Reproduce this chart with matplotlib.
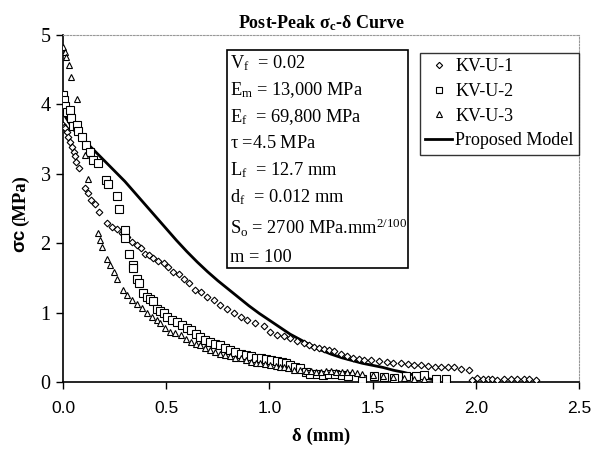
import matplotlib
matplotlib.use("Agg")
import matplotlib.pyplot as plt
from matplotlib.lines import Line2D
from matplotlib.patches import Rectangle

plt.rcParams['mathtext.fontset'] = 'custom'
plt.rcParams['mathtext.rm'] = 'Liberation Serif'
plt.rcParams['mathtext.it'] = 'Liberation Serif:italic'
plt.rcParams['mathtext.bf'] = 'Liberation Serif:bold'

# ---- data (delta in mm, sigma_c in MPa) ----
kv1_d = [0.000, 0.005, 0.010, 0.018, 0.026, 0.034, 0.042, 0.053, 0.058, 0.063, 0.078, 0.107,
         0.123, 0.136, 0.155, 0.176, 0.212, 0.236, 0.261, 0.285, 0.309, 0.333, 0.358, 0.378,
         0.398, 0.418, 0.438, 0.462, 0.487, 0.510, 0.535, 0.560, 0.584, 0.610, 0.641, 0.670,
         0.698, 0.730, 0.762, 0.795, 0.827, 0.860, 0.892, 0.930, 0.972, 1.005, 1.037, 1.070,
         1.102, 1.135, 1.166, 1.190, 1.215, 1.240, 1.264, 1.290, 1.312, 1.345, 1.377, 1.405,
         1.433, 1.460, 1.490, 1.530, 1.571, 1.600, 1.636, 1.670, 1.700, 1.735, 1.766, 1.800,
         1.830, 1.865, 1.895, 1.930, 1.967, 1.984, 2.008, 2.035, 2.057, 2.080, 2.105, 2.135,
         2.170, 2.200, 2.234, 2.260, 2.291]
kv1_s = [3.70, 3.68, 3.66, 3.60, 3.53, 3.46, 3.39, 3.32, 3.25, 3.17, 3.08, 2.79,
         2.72, 2.62, 2.57, 2.45, 2.29, 2.24, 2.21, 2.14, 2.09, 2.02, 1.97, 1.93,
         1.85, 1.83, 1.78, 1.74, 1.71, 1.66, 1.59, 1.55, 1.49, 1.42, 1.33, 1.29,
         1.23, 1.18, 1.11, 1.05, 0.99, 0.94, 0.89, 0.85, 0.80, 0.72, 0.68, 0.66,
         0.63, 0.59, 0.56, 0.54, 0.51, 0.49, 0.47, 0.46, 0.44, 0.40, 0.37, 0.35,
         0.33, 0.32, 0.31, 0.30, 0.29, 0.28, 0.27, 0.26, 0.25, 0.24, 0.23, 0.22,
         0.21, 0.22, 0.21, 0.19, 0.17, 0.03, 0.06, 0.05, 0.05, 0.04, 0.03, 0.04,
         0.05, 0.04, 0.05, 0.04, 0.03]

kv2_d = [0.000, 0.006, 0.010, 0.018, 0.034, 0.039, 0.047, 0.069, 0.074, 0.091, 0.112, 0.131,
         0.144, 0.171, 0.209, 0.220, 0.261, 0.273, 0.298, 0.301, 0.320, 0.338, 0.341, 0.358,
         0.370, 0.390, 0.406, 0.420, 0.438, 0.455, 0.470, 0.487, 0.503, 0.530, 0.552, 0.576,
         0.600, 0.620, 0.645, 0.665, 0.690, 0.711, 0.735, 0.760, 0.785, 0.810, 0.835, 0.860,
         0.885, 0.910, 0.935, 0.960, 0.985, 1.010, 1.035, 1.060, 1.080, 1.100, 1.125, 1.150,
         1.175, 1.199, 1.230, 1.262, 1.290, 1.320, 1.350, 1.380, 1.450, 1.505, 1.553, 1.602,
         1.660, 1.709, 1.749, 1.806, 1.854]
kv2_s = [4.14, 4.06, 3.98, 3.89, 3.92, 3.80, 3.69, 3.70, 3.61, 3.53, 3.41, 3.32,
         3.20, 3.15, 2.91, 2.86, 2.68, 2.49, 2.19, 2.07, 1.85, 1.69, 1.64, 1.49,
         1.42, 1.28, 1.23, 1.20, 1.16, 1.05, 1.02, 0.99, 0.94, 0.90, 0.87, 0.82,
         0.78, 0.75, 0.69, 0.65, 0.61, 0.58, 0.55, 0.53, 0.49, 0.46, 0.43, 0.41,
         0.39, 0.37, 0.35, 0.34, 0.33, 0.32, 0.30, 0.29, 0.27, 0.25, 0.22, 0.20,
         0.15, 0.12, 0.11, 0.10, 0.11, 0.11, 0.10, 0.08, 0.05, 0.08, 0.07, 0.06,
         0.08, 0.08, 0.10, 0.05, 0.05]

kv3_d = [0.000, 0.010, 0.015, 0.030, 0.040, 0.066, 0.107, 0.123, 0.171, 0.180, 0.191, 0.215,
         0.228, 0.249, 0.260, 0.292, 0.309, 0.333, 0.358, 0.382, 0.406, 0.430, 0.455, 0.470,
         0.495, 0.520, 0.545, 0.570, 0.595, 0.620, 0.645, 0.665, 0.690, 0.710, 0.735, 0.760,
         0.785, 0.810, 0.835, 0.860, 0.885, 0.910, 0.935, 0.956, 0.980, 1.005, 1.030, 1.050,
         1.070, 1.090, 1.120, 1.150, 1.175, 1.200, 1.225, 1.250, 1.275, 1.300, 1.325, 1.350,
         1.375, 1.400, 1.425, 1.450, 1.500, 1.550, 1.600, 1.650, 1.700, 1.750]
kv3_s = [4.83, 4.76, 4.69, 4.57, 4.39, 4.08, 3.27, 2.93, 2.15, 2.05, 1.95, 1.77,
         1.69, 1.59, 1.49, 1.33, 1.25, 1.18, 1.13, 1.06, 0.99, 0.94, 0.89, 0.85,
         0.78, 0.72, 0.70, 0.68, 0.62, 0.58, 0.55, 0.53, 0.49, 0.46, 0.43, 0.41,
         0.39, 0.37, 0.35, 0.34, 0.31, 0.29, 0.28, 0.27, 0.26, 0.245, 0.23, 0.22,
         0.21, 0.20, 0.18, 0.17, 0.16, 0.16, 0.15, 0.15, 0.16, 0.16, 0.15, 0.15,
         0.14, 0.14, 0.13, 0.12, 0.10, 0.08, 0.07, 0.06, 0.05, 0.04]

model_d = [0.00, 0.05, 0.10, 0.15, 0.20, 0.25, 0.30, 0.35, 0.40, 0.45, 0.50, 0.55,
           0.60, 0.65, 0.70, 0.75, 0.80, 0.85, 0.90, 0.95, 1.00, 1.05, 1.10, 1.15,
           1.20, 1.25, 1.30, 1.35, 1.40, 1.45, 1.50, 1.55, 1.60, 1.65, 1.70, 1.75, 1.80]
model_s = [3.88, 3.64, 3.49, 3.34, 3.19, 3.04, 2.89, 2.72, 2.55, 2.38, 2.21, 2.04,
           1.88, 1.73, 1.59, 1.46, 1.34, 1.22, 1.10, 0.99, 0.89, 0.79, 0.69, 0.61,
           0.53, 0.46, 0.40, 0.35, 0.31, 0.27, 0.24, 0.21, 0.17, 0.14, 0.10, 0.06, 0.03]

params = [r'V$_\mathrm{f}$  = 0.02',
          r'E$_\mathrm{m}$ = 13,000 MPa',
          r'E$_\mathrm{f}$  = 69,800 MPa',
          r'$\mathrm{\tau}$ =4.5 MPa',
          r'L$_\mathrm{f}$  = 12.7 mm',
          r'd$_\mathrm{f}$  = 0.012 mm',
          r'S$_\mathrm{o}$ = 2700 MPa.mm$^{\mathrm{2/100}}$',
          r'm = 100']

series_labels = ['KV-U-1', 'KV-U-2', 'KV-U-3', 'Proposed Model']
xticks = [0.0, 0.5, 1.0, 1.5, 2.0, 2.5]
yticks = [0, 1, 2, 3, 4, 5]

serif = 'Liberation Serif'
sans = 'Liberation Sans'

fig = plt.figure(figsize=(5.96, 4.58), dpi=100)
ax = fig.add_axes([63/596, 1-382/458, (579-63)/596, (382-35)/458])

ax.plot(model_d, model_s, color='black', lw=2.0, zorder=2)
mk = dict(linestyle='none', markerfacecolor='white', markeredgecolor='black',
          markeredgewidth=0.8, zorder=3)
ax.plot(kv1_d, kv1_s, marker='D', markersize=3.4, **mk)
ax.plot(kv2_d, kv2_s, marker='s', markersize=5.2, **mk)
ax.plot(kv3_d, kv3_s, marker='^', markersize=5.0, **mk)

ax.set_xlim(0, 2.5)
ax.set_ylim(0, 5)
ax.set_xticks(xticks)
ax.set_xticklabels([f'{v:.1f}' for v in xticks], fontfamily=sans, fontsize=12.5)
ax.set_yticks(yticks)
ax.set_yticklabels([str(v) for v in yticks], fontfamily=serif, fontsize=14.5)
ax.tick_params(axis='both', direction='out', length=5, width=1, colors='black')
ax.tick_params(axis='x', pad=9)
ax.tick_params(axis='y', pad=4)

for s in ['top', 'right']:
    ax.spines[s].set_color('#999999')
    ax.spines[s].set_linestyle((0, (1.5, 1.5)))
    ax.spines[s].set_linewidth(0.8)
for s in ['left', 'bottom']:
    ax.spines[s].set_linewidth(1.2)

ax.set_title(r'Post-Peak $\mathbf{\sigma_c}$-$\mathbf{\delta}$ Curve', fontfamily=serif,
             fontweight='bold', fontsize=13, pad=5)
ax.set_xlabel('δ (mm)', fontfamily=serif, fontweight='bold', fontsize=13.5, labelpad=8)

# y label: "σc" in bold sans, "(MPa)" in bold serif
fig.text(20/596, 1 - 240/458, 'σc', rotation=90, ha='center', va='center',
         fontfamily=sans, fontweight='bold', fontsize=13.5)
fig.text(20/596, 1 - 201/458, '(MPa)', rotation=90, ha='center', va='center',
         fontfamily=serif, fontweight='bold', fontsize=13.5)

# parameter box
def fx(px):
    return (px - 63) / 516
def fy(py):
    return (382 - py) / 347

ax.add_patch(Rectangle((fx(227), fy(268)), fx(408) - fx(227), fy(50) - fy(268),
                       transform=ax.transAxes, facecolor='white', edgecolor='black',
                       lw=1.2, zorder=4))
line_y = [63, 90, 117, 143, 170, 197, 228, 257]
for txt, py in zip(params, line_y):
    ax.text(fx(230), fy(py), txt, transform=ax.transAxes, fontfamily=serif,
            fontsize=13.2, va='center', ha='left', zorder=5)

handles = [Line2D([], [], marker='D', markersize=3.2, **mk),
           Line2D([], [], marker='s', markersize=4.0, **mk),
           Line2D([], [], marker='^', markersize=4.0, **mk),
           Line2D([], [], color='black', lw=2.0)]
leg = ax.legend(handles, series_labels, loc='upper left',
                bbox_to_anchor=(fx(420), fy(53)), prop={'family': serif, 'size': 13.0},
                frameon=True, fancybox=False, borderpad=0.3, labelspacing=0.42,
                handlelength=1.45, handletextpad=0.2, borderaxespad=0)
leg.get_frame().set_edgecolor('black')
leg.get_frame().set_linewidth(1.0)
leg.set_zorder(5)

fig.savefig('out.png', dpi=100)
